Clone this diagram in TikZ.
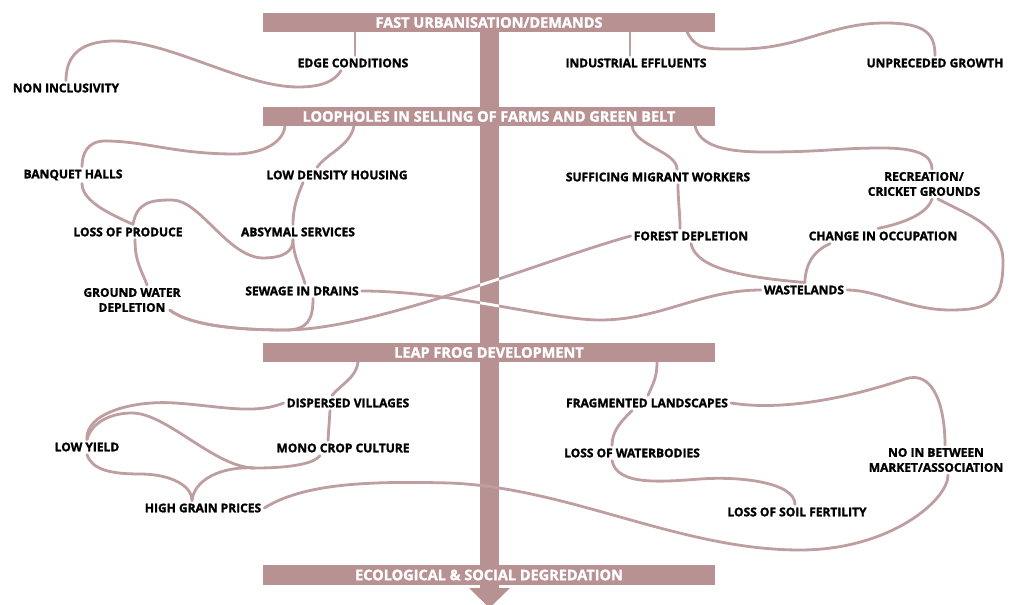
\documentclass[tikz,border=0pt]{standalone}
\usepackage{fontspec}
\setmainfont{Open Sans}[BoldFeatures = {FakeBold = 1.6}]
\usepackage{tikz}
\definecolor{barcol}{RGB}{184,145,147}
\definecolor{linecol}{RGB}{190,158,160}
\tikzstyle{bar} = [fill = barcol, text = white, font = \bfseries\fontsize{14.5}{16}\selectfont, minimum width = 452pt, minimum height = 19.5pt, inner sep = 0pt]
\tikzstyle{issue} = [font = \bfseries\fontsize{12}{15}\selectfont, align = center, inner sep = 3pt]
\tikzstyle{link} = [draw = linecol, line width = 2.8pt, line cap = round]
\tikzstyle{chart picture} = [x = 1pt, y = -1pt]

% the two links that run across the stem
\newcommand{\forestline}{(gw_out) .. controls +(20,15) and +(-50,0) .. (285,330) .. controls +(90,0) and +(-90,25) .. (forest.west)}
\newcommand{\drainline}{(sewage.east) .. controls +(90,0) and +(-50,0) .. (600,320) .. controls +(60,0) and +(-60,0) .. (wasteland.west)}

\begin{document}
\begin{tikzpicture}[chart picture]
    \useasboundingbox (0,0) rectangle (1015,605);

    % stem and arrow
    \fill [barcol] (480,13) rectangle (499,590);
    \fill [barcol] (469,588) -- (510,588) -- (489.5,608) -- cycle;

    \node [issue] (nonincl)     at (66, 88)   {NON INCLUSIVITY};
    \node [issue] (edgecond)    at (353, 63)  {EDGE CONDITIONS};
    \node [issue] (effluents)   at (636, 63)  {INDUSTRIAL EFFLUENTS};
    \node [issue] (growth)      at (935, 63)  {UNPRECEDED GROWTH};
    \node [issue] (banquet)     at (73, 175)  {BANQUET HALLS};
    \node [issue] (lowdensity)  at (337, 175) {LOW DENSITY HOUSING};
    \node [issue] (produce)     at (128, 232) {LOSS OF PRODUCE};
    \node [issue] (absymal)     at (298, 232) {ABSYMAL SERVICES};
    \node [issue] (groundwater) at (132, 300) {GROUND WATER\\DEPLETION};
    \node [issue] (sewage)      at (302, 291) {SEWAGE IN DRAINS};
    \node [issue] (migrant)     at (658, 177) {SUFFICING MIGRANT WORKERS};
    \node [issue] (recreation)  at (924, 184) {RECREATION/\\CRICKET GROUNDS};
    \node [issue] (forest)      at (691, 236) {FOREST DEPLETION};
    \node [issue] (occupation)  at (883, 236) {CHANGE IN OCCUPATION};
    \node [issue] (wasteland)   at (804, 290) {WASTELANDS};
    \node [issue] (villages)    at (348, 403) {DISPERSED VILLAGES};
    \node [issue] (monocrop)    at (343, 448) {MONO CROP CULTURE};
    \node [issue] (lowyield)    at (87, 447)  {LOW YIELD};
    \node [issue] (grain)       at (203, 508) {HIGH GRAIN PRICES};
    \node [issue] (fragment)    at (647, 403) {FRAGMENTED LANDSCAPES};
    \node [issue] (waterbody)   at (632, 453) {LOSS OF WATERBODIES};
    \node [issue] (market)      at (936, 460) {NO IN BETWEEN\\MARKET/ASSOCIATION};
    \node [issue] (soil)        at (797, 512) {LOSS OF SOIL FERTILITY};

    \coordinate (urban_1) at (355, 32);
    \coordinate (urban_2) at (630, 32);
    \coordinate (urban_3) at (687, 32);
    \coordinate (loophole_1) at (285, 126);
    \coordinate (loophole_2) at (354, 126);
    \coordinate (loophole_3) at (632, 126);
    \coordinate (loophole_4) at (695, 126);
    \coordinate (leapfrog_1) at (358, 362);
    \coordinate (leapfrog_2) at (657, 362);
    \coordinate (gw_out) at ([xshift = -14pt, yshift = 5pt]groundwater.south east);

    % fast urbanisation
    \draw [link] (urban_1) -- (urban_1 |- edgecond.north);
    \draw [link] (urban_2) -- (urban_2 |- effluents.north);
    \draw [link] (urban_3) .. controls +(10,18) and +(-35,0) .. (740,49)
        .. controls +(60,0) and +(-55,0) .. (885,23)
        .. controls +(40,0) and +(0,-22) .. (growth.north);
    \draw [link] (nonincl.north) .. controls +(0,-32) and +(-25,0) .. (115,41)
        .. controls +(55,0) and +(-55,0) .. (298,87)
        .. controls +(25,0) and +(-6,10) .. ([xshift = -12pt]edgecond.south);

    % loopholes
    \draw [link] (loophole_1) .. controls +(-2,18) and +(25,0) .. (235,154)
        .. controls +(-60,0) and +(40,0) .. (105,141)
        .. controls +(-18,0) and +(0,-12) .. ([xshift = 9pt]banquet.north);
    \draw [link] (loophole_2) .. controls +(-4,20) and +(10,-14) .. ([xshift = -20pt]lowdensity.north);
    \draw [link] ([xshift = 9pt]banquet.south) .. controls +(0,18) and +(-22,-10) .. ([xshift = 5pt]produce.north);
    \draw [link] ([xshift = 5pt]produce.north) .. controls +(4,-22) and +(-22,0) .. (172,200)
        .. controls +(28,0) and +(-35,-2) .. (262,258)
        .. controls +(22,0) and +(0,12) .. ([xshift = -5pt]absymal.south);
    \draw [link] ([xshift = -34pt]lowdensity.south) .. controls +(-6,14) and +(0,-16) .. ([xshift = -5pt]absymal.north);
    \draw [link] ([xshift = -5pt]absymal.south) .. controls +(0,16) and +(-4,-14) .. ([xshift = 3pt]sewage.north);
    \draw [link] ([xshift = 7pt]produce.south) .. controls +(0,22) and +(-6,-16) .. ([xshift = 15pt]groundwater.north);
    \draw [link] (gw_out) .. controls +(20,15) and +(-50,0) .. (285,330)
        .. controls +(22,0) and +(0,22) .. ([xshift = 11pt]sewage.south);
    \draw [link] \forestline;
    \draw [link] \drainline;
    \draw [link] (loophole_3) .. controls +(3,20) and +(0,-18) .. ([xshift = 19pt]migrant.north);
    \draw [link] (loophole_4) .. controls +(5,20) and +(-40,0) .. (765,152)
        .. controls +(60,0) and +(-45,0) .. (882,148)
        .. controls +(35,0) and +(0,-14) .. ([xshift = 8pt]recreation.north);
    \draw [link] ([xshift = 20pt]migrant.south) .. controls +(0,16) and +(0,-16) .. ([xshift = -11pt]forest.north);
    \draw [link] ([xshift = 8pt]recreation.south) .. controls +(-5,15) and +(25,-5) .. ([xshift = -5pt]occupation.north);
    \draw [link] ([xshift = 14pt]recreation.south) .. controls +(35,18) and +(0,-35) .. (1003,262)
        .. controls +(0,40) and +(40,0) .. (950,310)
        .. controls +(-40,0) and +(30,0) .. (wasteland.east);
    \draw [link] (forest.south) .. controls +(5,25) and +(-60,-5) .. (wasteland.north);
    \draw [link] ([xshift = -53pt]occupation.south) .. controls +(-18,8) and +(0,-16) .. ([xshift = 1pt]wasteland.north);

    % leap frog
    \draw [link] (leapfrog_1) .. controls +(-2,16) and +(10,-12) .. ([xshift = -16pt]villages.north);
    \draw [link] (villages.west) .. controls +(-30,12) and +(45,3) .. (175,403)
        .. controls +(-45,-3) and +(-2,-25) .. (lowyield.north);
    \draw [link] ([xshift = -18pt]villages.south) -- ([xshift = -15pt]monocrop.north);
    \draw [link] (lowyield.north) .. controls +(5,-18) and +(-20,0) .. (132,413)
        .. controls +(35,0) and +(-40,0) .. (255,468)
        .. controls +(40,0) and +(-5,7) .. ([xshift = -23pt]monocrop.south);
    \draw [link] ([xshift = -11pt]grain.north) .. controls +(2,-20) and +(-35,-2) .. (255,468);
    \draw [link] (lowyield.south) .. controls +(5,15) and +(-30,0) .. (140,474)
        .. controls +(30,0) and +(0,-15) .. ([xshift = -11pt]grain.north);
    \draw [link] (grain.east) .. controls +(40,-25) and +(-80,-2) .. (450,483)
        .. controls +(120,5) and +(-120,0) .. (800,550)
        .. controls +(90,0) and +(0,25) .. ([xshift = 12pt]market.south);
    \draw [link] (leapfrog_2) .. controls +(0,16) and +(5,-12) .. ([xshift = 1pt]fragment.north);
    \draw [link] (fragment.east) .. controls +(50,8) and +(-60,20) .. (905,379)
        .. controls +(30,-10) and +(0,-35) .. ([xshift = 9pt]market.north);
    \draw [link] ([xshift = -15pt]fragment.south) .. controls +(-10,10) and +(0,-15) .. ([xshift = -20pt]waterbody.north);
    \draw [link] ([xshift = -20pt]waterbody.south) .. controls +(5,25) and +(-40,3) .. (700,479)
        .. controls +(40,-3) and +(0,-22) .. ([xshift = -2pt]soil.north);

    % crossings show white over the stem
    \begin{scope}
        \clip (480,13) rectangle (499,590);
        \draw [link, draw = white] \forestline;
        \draw [link, draw = white] \drainline;
    \end{scope}

    \node [bar] (urban)    at (489, 22.5)  {FAST URBANISATION/DEMANDS};
    \node [bar] (loophole) at (489, 116.5) {LOOPHOLES IN SELLING OF FARMS AND GREEN BELT};
    \node [bar] (leapfrog) at (489, 352.5) {LEAP FROG DEVELOPMENT};
    \node [bar] (degrade)  at (489, 575)   {ECOLOGICAL \& SOCIAL DEGREDATION};
\end{tikzpicture}
\end{document}
